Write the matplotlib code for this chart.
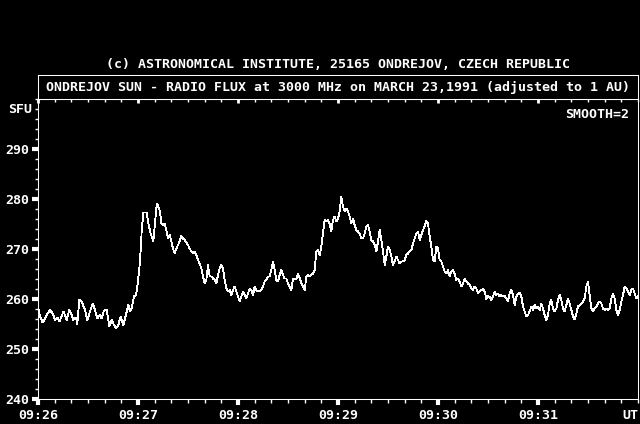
import matplotlib
matplotlib.use("Agg")
import matplotlib.pyplot as plt
from matplotlib.ticker import MultipleLocator, FixedLocator

# Radio flux samples: seconds after 09:26 UT and flux in SFU
seconds = [
    0.2, 1.2, 2.8, 4.2, 5.2, 7.2, 8.8, 10.2, 11.6, 12.8, 14.2, 15.2, 16.2,
    17.2, 18.8, 20.2, 21.2, 22.8, 23.6, 24.8, 26.2, 28.2, 29.6, 31.2, 32.8,
    34.2, 35.6, 37.2, 38.2, 39.6, 41.2, 42.8, 44.2, 45.6, 46.8, 48.2, 49.6,
    51.2, 53.2, 54.2, 55.2, 56.2, 57.6, 58.8, 59.6, 60.8, 61.6, 62.2, 63.2,
    65.2, 66.2, 67.6, 69.2, 70.2, 71.2, 71.6, 73.2,
] + list(range(74, 89)) + list(range(90, 361))

flux = [
    258.1, 256.5, 255.3, 256.1, 256.8, 257.8, 257.1, 255.8, 256.3, 255.5,
    256.5, 257.5, 256.8, 255.8, 257.8, 256.8, 255.8, 256.3, 255.0, 259.8,
    259.5, 257.8, 255.8, 257.5, 259.1, 257.8, 256.1, 256.8, 256.1, 257.7,
    257.8, 254.5, 255.8, 254.8, 254.1, 254.8, 256.5, 254.8, 257.5, 258.8,
    257.5, 258.1, 260.5, 260.8, 262.5, 266.1, 269.8, 273.5, 277.3, 277.3,
    275.1, 273.1, 271.5, 275.1, 278.8, 279.0, 277.5,
    275.1, 274.8, 275.1, 273.8, 272.1, 272.8, 271.5, 270.1, 269.1, 270.1,
    270.8, 271.5, 272.6, 272.1, 271.8, 270.8, 270.1, 269.5, 269.1, 269.5,
    268.8, 267.8, 267.1, 266.1, 264.5, 263.1, 263.8, 266.8, 264.5, 264.5,
    264.1, 263.8, 263.1, 264.8, 266.1, 266.8, 266.1, 263.8, 262.1, 261.5,
    261.8, 260.8, 261.8, 262.5, 261.5, 260.5, 259.5, 260.5, 261.5, 260.8,
    260.1, 261.1, 262.1, 261.8, 260.8, 262.5, 261.8, 261.5, 261.5, 261.8,
    262.5, 263.5, 263.8, 264.5, 264.5, 265.8, 267.5, 265.8, 263.8, 263.5,
    264.8, 265.8, 264.8, 264.1, 264.1, 263.1, 262.5, 261.8, 264.0, 264.0,
    264.0, 265.0, 264.3, 263.1, 262.5, 261.7, 264.5, 264.8, 264.5, 264.8,
    265.1, 265.8, 269.5, 269.8, 268.8, 270.5, 273.1, 275.8, 275.5, 275.8,
    275.1, 273.5, 275.8, 276.5, 275.5, 276.1, 277.5, 280.4, 278.5, 277.5,
    278.1, 277.5, 276.5, 275.1, 276.1, 274.8, 273.8, 273.5, 273.1, 272.1,
    272.1, 273.1, 274.5, 274.8, 273.5, 271.8, 271.5, 270.8, 269.5, 271.5,
    273.8, 271.8, 269.5, 266.8, 268.5, 270.5, 269.8, 268.5, 266.8, 267.5,
    268.5, 267.8, 267.1, 267.5, 267.5, 267.8, 268.8, 269.1, 269.5, 269.8,
    271.1, 272.1, 273.1, 273.5, 271.8, 272.8, 273.8, 274.5, 275.6, 275.1,
    272.5, 270.5, 267.8, 267.5, 270.5, 270.1, 267.8, 267.5, 266.5, 265.5,
    265.1, 265.8, 264.5, 265.5, 265.8, 265.1, 263.8, 264.1, 263.5, 262.5,
    263.1, 264.1, 263.5, 263.1, 262.8, 262.1, 261.8, 262.5, 262.1, 261.1,
    261.5, 261.8, 262.0, 261.5, 260.0, 260.6, 260.4, 259.8, 260.5, 261.5,
    260.8, 261.1, 260.5, 260.8, 260.5, 260.6, 260.1, 259.5, 261.1, 261.9,
    260.8, 258.8, 260.5, 261.1, 261.3, 260.5, 258.5, 257.5, 256.5, 256.8,
    257.5, 258.5, 257.8, 258.8, 258.1, 258.5, 257.8, 259.1, 258.1, 256.8,
    255.8, 256.8, 259.1, 259.8, 258.1, 257.5, 258.1, 259.8, 260.8, 259.8,
    258.1, 257.5, 258.8, 260.1, 259.1, 257.8, 256.5, 255.9, 257.1, 258.5,
    258.8, 259.1, 259.5, 260.1, 262.5, 263.5, 260.8, 258.1, 257.5, 258.1,
    258.5, 259.1, 259.5, 259.1, 258.1, 257.8, 258.1, 257.8, 258.1, 260.1,
    261.1, 260.1, 257.8, 256.8, 257.8, 259.5, 260.8, 262.5, 262.1, 261.5,
    260.8, 261.8, 262.1, 261.1, 260.1, 260.5,
]

time_ticks = [0, 60, 120, 180, 240, 300]
time_labels = ["09:26", "09:27", "09:28", "09:29", "09:30", "09:31"]
flux_ticks = [240, 250, 260, 270, 280, 290]

copyright_text = "(c) ASTRONOMICAL INSTITUTE, 25165 ONDREJOV, CZECH REPUBLIC"
title_text = "ONDREJOV SUN - RADIO FLUX at 3000 MHz on MARCH 23,1991 (adjusted to 1 AU)"

FONT = {"family": "DejaVu Sans Mono", "weight": "bold", "size": 9.5}
FG = "white"

fig = plt.figure(figsize=(6.4, 4.24), dpi=100, facecolor="black")
W, H = 640, 424

# main plot area
ax = fig.add_axes([38 / W, (H - 399) / H, 600 / W, 300 / H], facecolor="black")
ax.plot(seconds, flux, color=FG, lw=0.6, antialiased=False)
ax.set_xlim(0, 360)
ax.set_ylim(240, 300)

for side in ax.spines.values():
    side.set_color(FG)
    side.set_linewidth(0.75)

ax.xaxis.set_major_locator(FixedLocator(time_ticks))
ax.xaxis.set_minor_locator(MultipleLocator(10))
ax.set_xticklabels(time_labels, fontdict=FONT, color=FG)
ax.yaxis.set_major_locator(FixedLocator(flux_ticks))
ax.yaxis.set_minor_locator(MultipleLocator(2))
ax.set_yticklabels([str(v) for v in flux_ticks], fontdict=FONT, color=FG)

ax.tick_params(which="major", direction="out", length=4, width=3, color=FG, pad=2)
ax.tick_params(which="minor", direction="out", length=3, width=1, color=FG)
ax.tick_params(axis="y", which="minor", length=2)
ax.tick_params(axis="x", pad=3.5)

# inward ticks along the top edge
top = ax.secondary_xaxis("top")
top.xaxis.set_major_locator(FixedLocator(time_ticks))
top.xaxis.set_minor_locator(MultipleLocator(10))
top.set_xticklabels([])
top.tick_params(which="major", direction="in", length=3, width=2, color=FG)
top.tick_params(which="minor", direction="in", length=2, width=1, color=FG)
top.spines["top"].set_color(FG)
top.spines["top"].set_linewidth(0.75)

ax.text(360, 236.7, "UT", fontdict=FONT, color=FG, ha="right", va="center",
        clip_on=False)
ax.text(-3.4, 297.9, "SFU", fontdict=FONT, color=FG, ha="right", va="center",
        clip_on=False)
ax.text(354.8, 297.0, "SMOOTH=2", fontdict=FONT, color=FG, ha="right", va="center")

# title box above the plot
box = fig.add_axes([38 / W, (H - 99) / H, 600 / W, 24 / H], facecolor="black")
box.set_xticks([])
box.set_yticks([])
for side in box.spines.values():
    side.set_color(FG)
    side.set_linewidth(0.75)
box.text(0.5, 0.5, title_text, fontdict=FONT, color=FG, ha="center",
         va="center", transform=box.transAxes)

fig.text(338 / W, 1 - 64 / H, copyright_text, fontdict=FONT, color=FG,
         ha="center", va="center")

fig.savefig("out.png", dpi=100, facecolor="black")
